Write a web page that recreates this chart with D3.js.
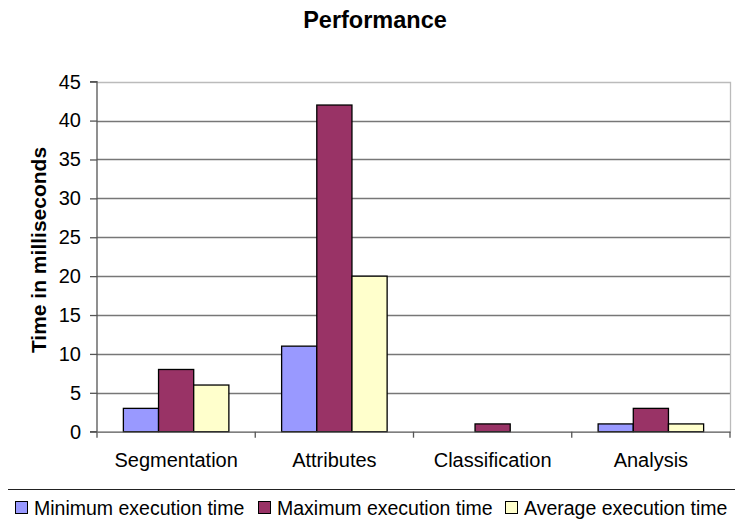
<!DOCTYPE html>
<html>
<head>
<meta charset="utf-8">
<script src="https://cdn.jsdelivr.net/npm/d3@7"></script>
<style>
  html, body { margin: 0; padding: 0; background: #fff; }
  svg { display: block; font-family: "Liberation Sans", Arial, sans-serif; }
</style>
</head>
<body>
<svg id="chart" width="735" height="519"></svg>
<script>
// Phases of the pipeline
const categories = ["Segmentation", "Attributes", "Classification", "Analysis"];
// Execution times (ms) per phase
const minTimes = [3, 11, 0, 1];
const maxTimes = [8, 42, 1, 3];
const avgTimes = [6, 20, 0, 1];
const seriesNames = ["Minimum execution time", "Maximum execution time", "Average execution time"];
const seriesColors = ["#9999FF", "#993366", "#FFFFCC"];
const yTicks = [0, 5, 10, 15, 20, 25, 30, 35, 40, 45];

const series = [minTimes, maxTimes, avgTimes];

const svg = d3.select("#chart");
const plot = { left: 97, right: 730, top: 81.7, bottom: 431.7 };

const x = d3.scaleBand().domain(categories).range([plot.left, plot.right]).paddingInner(0).paddingOuter(0);
const gapRatio = 1.5; // gap between groups relative to a bar width
const barW = x.bandwidth() / (series.length + gapRatio);
const xInner = d3.scaleBand().domain(d3.range(series.length))
  .range([barW * gapRatio / 2, barW * gapRatio / 2 + barW * series.length]);

const y = d3.scaleLinear().domain([0, 45]).range([plot.bottom, plot.top]);

// Title
svg.append("text")
  .attr("x", 375).attr("y", 28)
  .attr("text-anchor", "middle")
  .attr("font-size", 23.5).attr("font-weight", "bold")
  .text("Performance");

// Horizontal gridlines
svg.append("g").selectAll("line")
  .data(yTicks.filter(d => d > 0 && d < 45))
  .join("line")
  .attr("x1", plot.left).attr("x2", plot.right)
  .attr("y1", d => Math.round(y(d)) + 0.5).attr("y2", d => Math.round(y(d)) + 0.5)
  .attr("stroke", "#777").attr("stroke-width", 1.3);

// Plot area border (top and right)
svg.append("path")
  .attr("d", `M${plot.left},${Math.round(plot.top) + 0.5}H${plot.right + 0.5}V${plot.bottom}`)
  .attr("fill", "none").attr("stroke", "#BBBBBB").attr("stroke-width", 1.3);

// Bars
const groups = svg.append("g").selectAll("g")
  .data(categories)
  .join("g")
  .attr("transform", d => `translate(${x(d)},0)`);

groups.selectAll("rect")
  .data((c, i) => series.map((s, k) => ({ k, v: s[i] })).filter(d => d.v > 0))
  .join("rect")
  .attr("x", d => xInner(d.k))
  .attr("width", xInner.bandwidth())
  .attr("y", d => y(d.v))
  .attr("height", d => y(0) - y(d.v))
  .attr("fill", d => seriesColors[d.k])
  .attr("stroke", "#000").attr("stroke-width", 1.3);

// Y axis
const yAxis = d3.axisLeft(y).tickValues(yTicks).tickSize(7).tickPadding(9);
const gy = svg.append("g").attr("transform", `translate(${plot.left},0)`).call(yAxis);
gy.select(".domain").attr("stroke", "#555").attr("stroke-width", 1.3).attr("d", `M-7,${plot.top}H0V${plot.bottom}H-7`);
gy.selectAll(".tick line").attr("stroke", "#555").attr("stroke-width", 1.3);
gy.selectAll(".tick text").attr("font-size", 20).attr("fill", "#000")
  .attr("font-family", "Liberation Sans, Arial, sans-serif");

// X axis
const xAxis = d3.axisBottom(x).tickSize(0).tickPadding(21);
const gx = svg.append("g").attr("transform", `translate(0,${plot.bottom})`).call(xAxis);
gx.select(".domain").attr("stroke", "#555").attr("stroke-width", 1.3);
gx.selectAll(".tick text").attr("font-size", 20).attr("fill", "#000")
  .attr("font-family", "Liberation Sans, Arial, sans-serif");
// Category separator ticks
gx.append("g").selectAll("line")
  .data(d3.range(categories.length + 1))
  .join("line")
  .attr("x1", i => plot.left + i * x.bandwidth()).attr("x2", i => plot.left + i * x.bandwidth())
  .attr("y1", 0).attr("y2", 6)
  .attr("stroke", "#555").attr("stroke-width", 1.3);

// Y axis title
svg.append("text")
  .attr("transform", `translate(46,250) rotate(-90)`)
  .attr("text-anchor", "middle")
  .attr("font-size", 21).attr("font-weight", "bold")
  .text("Time in milliseconds");

// Legend
svg.append("line")
  .attr("x1", 8).attr("x2", 735).attr("y1", 489.5).attr("y2", 489.5)
  .attr("stroke", "#222").attr("stroke-width", 1.2);

const legendX = [15, 258, 505];
const legend = svg.append("g").selectAll("g")
  .data(seriesNames)
  .join("g")
  .attr("transform", (d, i) => `translate(${legendX[i]},501)`);
legend.append("rect")
  .attr("x", 0.5).attr("y", 0.5).attr("width", 12).attr("height", 12)
  .attr("fill", (d, i) => seriesColors[i])
  .attr("stroke", "#000").attr("stroke-width", 1);
legend.append("text")
  .attr("x", 19).attr("y", 14)
  .attr("font-size", 19.5)
  .text(d => d);
</script>
</body>
</html>
